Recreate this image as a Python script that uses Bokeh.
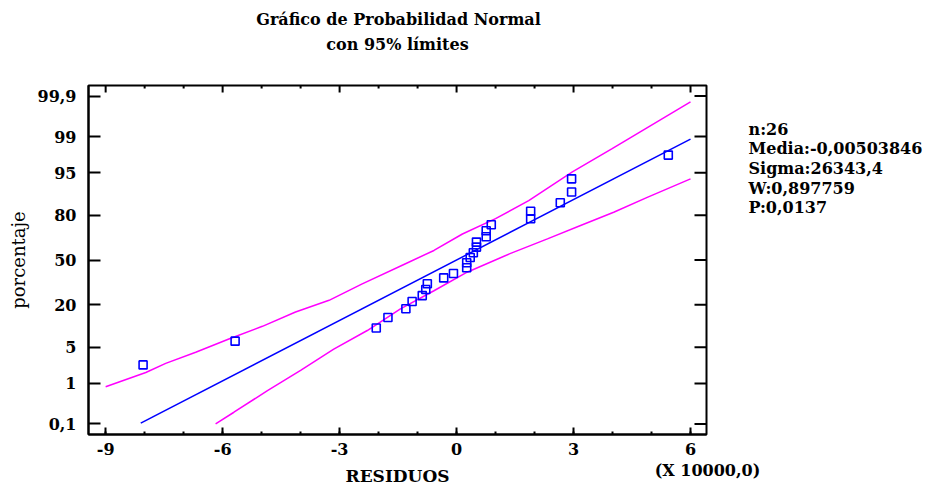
from statistics import NormalDist
import numpy as np
from bokeh.plotting import figure
from bokeh.layouts import column, row
from bokeh.models import Range1d, FixedTicker, CustomJSTickFormatter, ColumnDataSource
from bokeh.core.properties import value
from bokeh.embed import file_html
from bokeh.resources import INLINE

# ---------------- data ----------------
# residuals in units of 10000
residuos = [-8.04, -5.68, -2.06, -1.76, -1.30, -1.14, -0.88, -0.79, -0.75, -0.33,
            -0.08, 0.26, 0.26, 0.35, 0.43, 0.51, 0.51, 0.76, 0.76, 0.89,
            1.90, 1.90, 2.66, 2.95, 2.95, 5.43]
# cumulative percentage of each point
porcentaje = [2.4, 6.3, 10.0, 13.9, 17.9, 21.7, 25.1, 28.9, 32.7, 36.8,
              39.9, 44.2, 47.9, 51.9, 55.4, 59.6, 63.2, 66.9, 70.9, 74.7,
              78.2, 82.1, 86.0, 90.0, 93.7, 97.6]

# 95% limits (magenta curves)
limite_sup_x = [-9.0, -7.97, -7.46, -6.69, -5.84, -4.98, -4.13, -3.27, -2.42,
                -1.31, -0.58, 0.15, 1.0, 1.85, 2.97, 3.99, 4.85, 6.0]
limite_sup_pct = [0.84, 1.70, 2.56, 4.09, 6.81, 10.56, 16.35, 22.36, 32.64,
                  47.21, 57.14, 68.79, 78.23, 86.86, 95.15, 98.21, 99.34, 99.856]
limite_inf_x = [-6.18, -5.71, -4.85, -4.0, -3.15, -2.29, -1.44, -0.58, 0.27,
                1.37, 2.33, 3.18, 4.03, 4.89, 6.0]
limite_inf_pct = [0.10, 0.205, 0.69, 1.88, 4.65, 9.18, 17.88, 28.1, 40.9,
                  54.8, 65.5, 74.2, 81.6, 88.1, 93.7]

# statistics
n = 26
media = -0.00503846
sigma = 26343.4
W = "0,897759"
P = "0,0137"
escala = 10000.0
linea_x = [-8.1, 6.0]

# ticks
ticks_x = [-9, -6, -3, 0, 3, 6]
etiquetas_x = ["-9", "-6", "-3", "0", "3", "6"]
minor_x = [-9, -8, -7, -6, -5, -4, -3, -2, -1, 0, 1, 2, 3, 4, 5, 6]
ticks_pct = [0.1, 1, 5, 20, 50, 80, 95, 99, 99.9]
etiquetas_y = ["0,1", "1", "5", "20", "50", "80", "95", "99", "99,9"]

titulo = ["Gráfico de Probabilidad Normal", "con 95% límites"]
estadisticos = ["n:%d" % n, "Media:-0,00503846", "Sigma:26343,4", "W:" + W, "P:" + P]

# ---------------- transforms ----------------
nd = NormalDist()
def z(pcts):
    return [nd.inv_cdf(p / 100.0) for p in pcts]

ticks_z = z(ticks_pct)
linea_z = [(x - media / escala) / (sigma / escala) for x in linea_x]

FONT = "DejaVu Serif"
TOTAL_W = 926
TOP_H = 70
MID_H = 391
BOT_H = 24
MAIN_W = 726

X0, X1 = -9.44, 6.41
Y0, Y1 = -3.29, 3.29

# ---------------- main plot ----------------
p = figure(width=MAIN_W, height=MID_H, x_range=Range1d(X0, X1), y_range=Range1d(Y0, Y1),
           output_backend="svg", toolbar_location=None, title=None,
           min_border_left=88, min_border_top=15, min_border_right=MAIN_W - 88 - 618,
           min_border_bottom=MID_H - 15 - 349, background_fill_color="white",
           border_fill_color="white")
p.grid.visible = False
p.outline_line_color = "black"
p.outline_line_width = 2

xfmt = CustomJSTickFormatter(args=dict(t=ticks_x, labels=etiquetas_x), code="""
for (let i = 0; i < t.length; i++) { if (Math.abs(t[i] - tick) < 1e-6) return labels[i]; }
return "";
""")
yfmt = CustomJSTickFormatter(args=dict(t=ticks_z, labels=etiquetas_y), code="""
for (let i = 0; i < t.length; i++) { if (Math.abs(t[i] - tick) < 1e-6) return labels[i]; }
return "";
""")

def style_axis(ax, ticker, fmt, major_in, minor_in, standoff):
    ax.ticker = ticker
    ax.formatter = fmt
    ax.axis_line_color = "black"
    ax.axis_line_width = 2
    ax.major_tick_line_color = "black"
    ax.major_tick_line_width = 2
    ax.minor_tick_line_color = "black"
    ax.minor_tick_line_width = 2
    ax.major_tick_in = major_in
    ax.major_tick_out = 0
    ax.minor_tick_in = minor_in
    ax.minor_tick_out = 0
    ax.major_label_standoff = standoff
    ax.major_label_text_font = FONT
    ax.major_label_text_font_style = "bold"
    ax.major_label_text_font_size = "16px"
    ax.major_label_text_color = "black"

style_axis(p.xaxis[0], FixedTicker(ticks=ticks_x, minor_ticks=minor_x), xfmt, 7, 3, 8)
style_axis(p.yaxis[0], FixedTicker(ticks=ticks_z, minor_ticks=[]), yfmt, 12, 0, 12)
p.yaxis[0].axis_label = "porcentaje"
p.yaxis[0].axis_label_text_font = FONT
p.yaxis[0].axis_label_text_font_style = "normal"
p.yaxis[0].axis_label_text_font_size = "18px"
p.yaxis[0].axis_label_text_color = "black"
p.yaxis[0].axis_label_standoff = 6

# mirrored inward ticks on the top and right edges of the frame
minor_only = [m for m in minor_x if m not in ticks_x]
p.ray(x=ticks_x, y=[Y1] * len(ticks_x), length=7, length_units="screen",
      angle=-np.pi / 2, line_color="black", line_width=2)
p.ray(x=minor_only, y=[Y1] * len(minor_only), length=3, length_units="screen",
      angle=-np.pi / 2, line_color="black", line_width=2)
p.ray(x=[X1] * len(ticks_z), y=ticks_z, length=12, length_units="screen",
      angle=np.pi, line_color="black", line_width=2)

# glyphs
p.line(limite_sup_x, z(limite_sup_pct), line_color="#ff00ff", line_width=1.5)
p.line(limite_inf_x, z(limite_inf_pct), line_color="#ff00ff", line_width=1.5)
p.line(linea_x, linea_z, line_color="#0000ff", line_width=1.5)
src = ColumnDataSource(dict(x=residuos, y=z(porcentaje)))
p.scatter("x", "y", source=src, marker="square", size=8, fill_color=None,
          line_color="#0000ff", line_width=1.6)

# ---------------- text panels ----------------
def panel(w, h, x0, x1, y_top, y_bot):
    f = figure(width=w, height=h, x_range=Range1d(x0, x1), y_range=Range1d(y_bot, y_top),
               output_backend="svg", toolbar_location=None, title=None,
               x_axis_location=None, y_axis_location=None,
               min_border=0, min_border_left=0, min_border_right=0,
               min_border_top=0, min_border_bottom=0,
               background_fill_color="white", border_fill_color="white")
    f.grid.visible = False
    f.outline_line_color = None
    return f

def texts(f, xs, ys, labels, size, align="center", style="bold"):
    f.text(x=xs, y=ys, text=labels, text_font=value(FONT), text_font_style=style,
           text_font_size=size, text_align=align, text_baseline="middle",
           text_color="black")

# title panel (page coordinates)
p_top = panel(TOTAL_W, TOP_H, 0, TOTAL_W, 0, TOP_H)
texts(p_top, [398, 397], [19, 44], titulo, "16px")

# statistics panel (page coordinates)
p_stats = panel(TOTAL_W - MAIN_W, MID_H, MAIN_W, TOTAL_W, TOP_H, TOP_H + MID_H)
texts(p_stats, [748] * len(estadisticos), [119 + 22 * i for i in range(len(estadisticos))],
      estadisticos, "16px", align="left")

# bottom panel (page coordinates)
y_b = TOP_H + MID_H
p_bot = panel(TOTAL_W, BOT_H, 0, TOTAL_W, y_b, y_b + BOT_H)
texts(p_bot, [707], [y_b + 9], ["(X 10000,0)"], "16px")
texts(p_bot, [397], [y_b + 14], ["RESIDUOS"], "17px")

layout = column(p_top, row(p, p_stats), p_bot)
open("out.html", "w").write(file_html(layout, INLINE))
